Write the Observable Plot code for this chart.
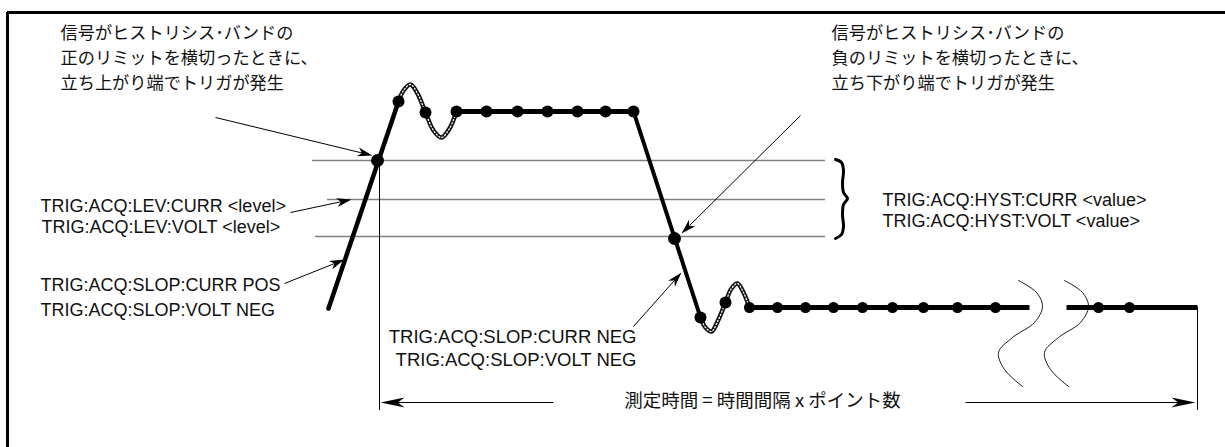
<!DOCTYPE html>
<html>
<head>
<meta charset="utf-8">
<script src="https://cdn.jsdelivr.net/npm/d3@7"></script>
<script src="https://cdn.jsdelivr.net/npm/@observablehq/plot@0.6"></script>
<style>
  html, body { margin: 0; padding: 0; background: #fff; }
  #chart svg { display: block; }
</style>
</head>
<body>
<div id="chart"></div>
<script>
// ---------- data (diagram coordinates: x = time axis units, y = drawing units, downwards) ----------
const frameTop = [{x1: 7, x2: 1225, y: 12}];
const frameLeft = [{x: 7, y1: 12, y2: 447}];

// hysteresis band limit lines (upper limit, level, lower limit)
const bandLines = [
  {y: 160, x1: 312, x2: 825},
  {y: 199, x1: 327, x2: 825},
  {y: 236, x1: 315, x2: 825}
];

// vertical markers for measurement window
const windowMarks = [
  {x: 379, y1: 160, y2: 410},
  {x: 1197, y1: 307, y2: 410}
];

// signal pieces
const riseEdge = [{x: 328, y: 308}, {x: 398, y: 101}];
const ringUp = [
  {x: 398, y: 101}, {x: 403, y: 90}, {x: 410, y: 84}, {x: 417, y: 93}, {x: 425, y: 112},
  {x: 433, y: 130}, {x: 441, y: 137}, {x: 449, y: 128}, {x: 456, y: 111}
];
const topLevel = 111;
const topSampleX = [456, 486, 517, 547, 577, 605, 633];
const fallEdge = [{x: 633, y: 111}, {x: 700, y: 317}];
const ringDown = [
  {x: 700, y: 317}, {x: 705, y: 327}, {x: 711, y: 331}, {x: 718, y: 319}, {x: 725, y: 302},
  {x: 731, y: 288}, {x: 737, y: 283}, {x: 743, y: 292}, {x: 749, y: 307}
];
const bottomLevel = 307;
const bottomRunA = [749, 1029];
const bottomSampleA = [749, 777, 805, 833, 862, 892, 923, 957, 995];
const bottomRunB = [1066, 1197];
const bottomSampleB = [1098, 1129];
const ringSamples = [{x: 398, y: 101}, {x: 425, y: 112}, {x: 700, y: 317}, {x: 725, y: 302}];
const triggerPoints = [{x: 377, y: 160}, {x: 674, y: 238}];

// time-break marks
const breakMarks = [
  {id: 1, pts: [[1018, 280], [1036, 292], [1042, 306], [1034, 322], [1012, 337], [998, 352], [1004, 369], [1022, 386]]},
  {id: 2, pts: [[1064, 280], [1082, 292], [1088, 306], [1080, 322], [1058, 337], [1044, 352], [1050, 369], [1068, 386]]}
];

// brace for hysteresis band
const brace = [
  {x: 835, y: 159}, {x: 841, y: 162}, {x: 843, y: 170}, {x: 842, y: 182}, {x: 843, y: 192},
  {x: 847, y: 198}, {x: 843, y: 204}, {x: 842, y: 214}, {x: 843, y: 226}, {x: 841, y: 234}, {x: 835, y: 238}
];

// callout arrows
const callouts = [
  {x1: 215, y1: 117, x2: 372, y2: 155, size: "s"},
  {x1: 800, y1: 115, x2: 681, y2: 233, size: "s"},
  {x1: 290, y1: 212, x2: 351, y2: 199, size: "s"},
  {x1: 284, y1: 283, x2: 344, y2: 259, size: "s"},
  {x1: 633, y1: 326, x2: 681, y2: 272, size: "s"},
  {x1: 553, y1: 402, x2: 380, y2: 402, size: "l"},
  {x1: 965, y1: 402, x2: 1195, y2: 402, size: "l"}
];

// texts
const noteRise = ["信号がヒストリシス･バンドの", "正のリミットを横切ったときに、", "立ち上がり端でトリガが発生"];
const noteFall = ["信号がヒストリシス･バンドの", "負のリミットを横切ったときに、", "立ち下がり端でトリガが発生"];
const noteLineY = [33, 58, 83];
const leftLabels = [
  {t: "TRIG:ACQ:LEV:CURR <level>", x: 40, y: 206},
  {t: "TRIG:ACQ:LEV:VOLT <level>", x: 41, y: 227},
  {t: "TRIG:ACQ:SLOP:CURR POS", x: 40, y: 285},
  {t: "TRIG:ACQ:SLOP:VOLT NEG", x: 40, y: 310}
];
const hystLabels = [
  {t: "TRIG:ACQ:HYST:CURR <value>", x: 882, y: 200},
  {t: "TRIG:ACQ:HYST:VOLT <value>", x: 882, y: 221}
];
const negLabels = [
  {t: "TRIG:ACQ:SLOP:CURR NEG", x: 636, y: 337},
  {t: "TRIG:ACQ:SLOP:VOLT NEG", x: 636, y: 360}
];
const durationLabel = [{t: "測定時間 = 時間間隔 x ポイント数", x: 762, y: 401}];

// ---------- derived ----------
const jpFont = "'Noto Sans CJK JP', 'Noto Sans', sans-serif";
const enFont = "'Liberation Sans', Arial, sans-serif";

const riseNote = noteRise.map((t, i) => ({t, x: 60, y: noteLineY[i]}));
const fallNote = noteFall.map((t, i) => ({t, x: 831, y: noteLineY[i]}));
const topSamples = topSampleX.map(x => ({x, y: topLevel}));
const bottomSamples = [...bottomSampleA, ...bottomSampleB].map(x => ({x, y: bottomLevel}));
const bottomRuns = [bottomRunA, bottomRunB].map(([a, b]) => ({x1: a, x2: b, y: bottomLevel}));
const topRun = [{x1: topSampleX[0], x2: topSampleX[topSampleX.length - 1], y: topLevel}];
const breakPts = breakMarks.flatMap(m => m.pts.map(([x, y]) => ({id: m.id, x, y})));

// arrowheads as filled notched polygons
const headDims = {s: {L: 15, W: 4.5}, l: {L: 24, W: 5}};
const heads = callouts.flatMap((a, i) => {
  const {L, W} = headDims[a.size];
  const dx = a.x2 - a.x1, dy = a.y2 - a.y1, len = Math.hypot(dx, dy);
  const ux = dx / len, uy = dy / len, px = -uy, py = ux;
  const bx = a.x2 - ux * L, by = a.y2 - uy * L;
  const nx = a.x2 - ux * L * 0.72, ny = a.y2 - uy * L * 0.72;
  return [
    {id: i, x: a.x2, y: a.y2},
    {id: i, x: bx + px * W, y: by + py * W},
    {id: i, x: nx, y: ny},
    {id: i, x: bx - px * W, y: by - py * W},
    {id: i, x: a.x2, y: a.y2}
  ];
});
const shafts = callouts.map(a => {
  const L = headDims[a.size].L * 0.72;
  const dx = a.x2 - a.x1, dy = a.y2 - a.y1, len = Math.hypot(dx, dy);
  return {x1: a.x1, y1: a.y1, x2: a.x2 - dx / len * L, y2: a.y2 - dy / len * L};
});

const chart = Plot.plot({
  width: 1225,
  height: 447,
  margin: 0,
  style: {background: "#fff", overflow: "visible"},
  x: {domain: [0, 1225], range: [0, 1225], axis: null},
  y: {domain: [0, 447], range: [0, 447], axis: null},
  marks: [
    // frame
    Plot.ruleY(frameTop, {y: "y", x1: "x1", x2: "x2", stroke: "#000", strokeWidth: 3}),
    Plot.ruleX(frameLeft, {x: "x", y1: "y1", y2: "y2", stroke: "#000", strokeWidth: 3}),
    // hysteresis band lines
    Plot.ruleY(bandLines, {y: "y", x1: "x1", x2: "x2", stroke: "#808080", strokeWidth: 1.6}),
    // window markers
    Plot.ruleX(windowMarks, {x: "x", y1: "y1", y2: "y2", stroke: "#000", strokeWidth: 1}),
    // break marks
    Plot.line(breakPts, {x: "x", y: "y", z: "id", curve: "catmull-rom", stroke: "#000", strokeWidth: 0.9}),
    // signal
    Plot.line(riseEdge, {x: "x", y: "y", stroke: "#000", strokeWidth: 4.5}),
    Plot.line(fallEdge, {x: "x", y: "y", stroke: "#000", strokeWidth: 4}),
    Plot.link(topRun, {x1: "x1", x2: "x2", y1: "y", y2: "y", stroke: "#000", strokeWidth: 5}),
    Plot.link(bottomRuns, {x1: "x1", x2: "x2", y1: "y", y2: "y", stroke: "#000", strokeWidth: 5}),
    Plot.line(ringUp, {x: "x", y: "y", curve: "catmull-rom", stroke: "#111", strokeWidth: 4.5}),
    Plot.line(ringDown, {x: "x", y: "y", curve: "catmull-rom", stroke: "#111", strokeWidth: 4.5}),
    Plot.line(ringUp, {x: "x", y: "y", curve: "catmull-rom", stroke: "#fff", strokeWidth: 1.3, strokeDasharray: "1.2,2.2"}),
    Plot.line(ringDown, {x: "x", y: "y", curve: "catmull-rom", stroke: "#fff", strokeWidth: 1.3, strokeDasharray: "1.2,2.2"}),
    Plot.dot(topSamples, {x: "x", y: "y", r: 6, fill: "#000"}),
    Plot.dot(bottomSamples, {x: "x", y: "y", r: 5.5, fill: "#000"}),
    Plot.dot(ringSamples, {x: "x", y: "y", r: 6, fill: "#000"}),
    Plot.dot(triggerPoints, {x: "x", y: "y", r: 6.5, fill: "#000"}),
    // brace
    Plot.line(brace, {x: "x", y: "y", curve: "catmull-rom", stroke: "#000", strokeWidth: 3}),
    // callout arrows
    Plot.link(shafts, {x1: "x1", y1: "y1", x2: "x2", y2: "y2", stroke: "#000", strokeWidth: 1}),
    Plot.line(heads, {x: "x", y: "y", z: "id", fill: "#000", stroke: "none"}),
    // texts
    Plot.text(riseNote, {x: "x", y: "y", text: "t", textAnchor: "start", lineAnchor: "middle", fontSize: 17.2, fontFamily: jpFont, fill: "#111"}),
    Plot.text(fallNote, {x: "x", y: "y", text: "t", textAnchor: "start", lineAnchor: "middle", fontSize: 17.2, fontFamily: jpFont, fill: "#111"}),
    Plot.text(leftLabels, {x: "x", y: "y", text: "t", textAnchor: "start", lineAnchor: "middle", fontSize: 18, fontFamily: enFont, fill: "#111"}),
    Plot.text(hystLabels, {x: "x", y: "y", text: "t", textAnchor: "start", lineAnchor: "middle", fontSize: 18, fontFamily: enFont, fill: "#111"}),
    Plot.text(negLabels, {x: "x", y: "y", text: "t", textAnchor: "end", lineAnchor: "middle", fontSize: 18.5, fontFamily: enFont, fill: "#111"}),
    Plot.text(durationLabel, {x: "x", y: "y", text: "t", textAnchor: "middle", lineAnchor: "middle", fontSize: 18.5, fontFamily: jpFont, fill: "#111"})
  ]
});
document.getElementById("chart").append(chart);
</script>
</body>
</html>
